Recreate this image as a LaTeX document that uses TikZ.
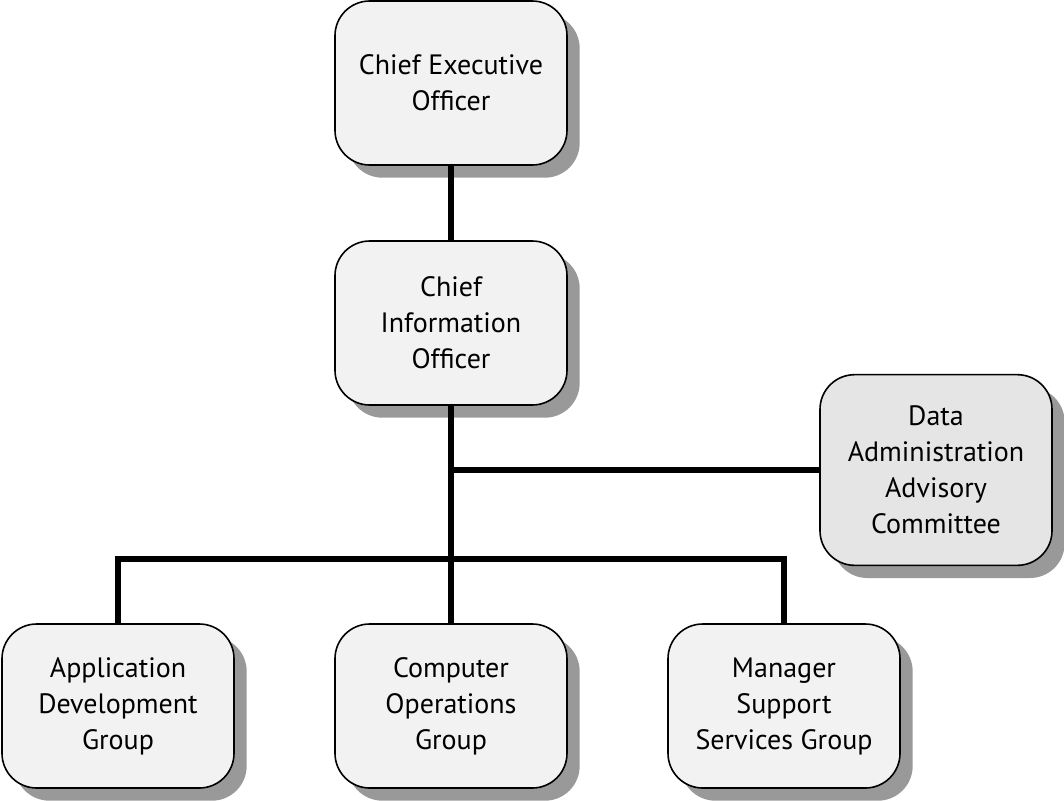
\documentclass[tikz,border=0pt]{standalone}
\usepackage{fontspec}
\setmainfont{PT Sans}
\usepackage{tikz}
\usetikzlibrary{positioning, shadows}

\begin{document}
\begin{tikzpicture}[x=0.75pt, y=-0.75pt,
  font=\fontsize{21}{27}\selectfont,
  unit/.style={draw, line width=1.2pt, rounded corners=26pt, fill=black!5,
    minimum width=174pt, minimum height=123pt, align=center, inner sep=2pt,
    drop shadow={shadow xshift=9.5pt, shadow yshift=-9.5pt, fill=black!40, opacity=1}},
  panel/.style={unit, fill=black!10, minimum height=143pt},
  link/.style={line width=4.6pt}]
  \useasboundingbox (0,0) rectangle (1064,800);
  \node[unit] (ceo) at (451,83) {Chief Executive\\Officer};
  \node[unit] (cio) at (451,323) {Chief\\Information\\Officer};
  \node[panel] (dac) at (936,470) {Data\\Administration\\Advisory\\Committee};
  \node[unit] (app) at (118,706) {Application\\Development\\Group};
  \node[unit] (ops) at (451,706) {Computer\\Operations\\Group};
  \node[unit] (mss) at (784,706) {Manager\\Support\\Services Group};
  % junctions on the trunk
  \coordinate (tap) at (451,470);
  \coordinate (bus) at (451,559);
  \draw[link] (ceo) -- (cio);
  \draw[link] (cio) -- (ops);
  \draw[link] (tap) -- (tap -| dac.west);
  \draw[link] (app.north) |- (bus) -| (mss.north);
\end{tikzpicture}
\end{document}
